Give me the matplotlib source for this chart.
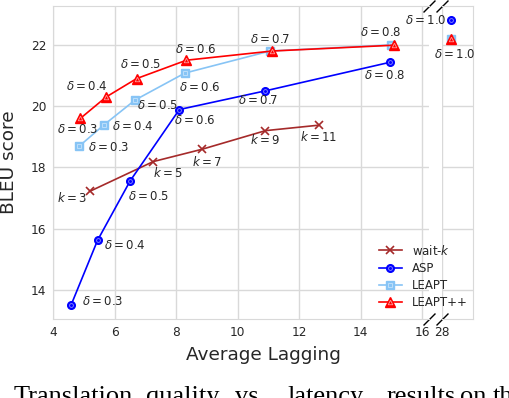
import matplotlib
matplotlib.use('Agg')
import matplotlib.pyplot as plt
from matplotlib.legend_handler import HandlerTuple

# datos
waitk_al = [5.19, 7.25, 8.83, 10.90, 12.65]
waitk_bleu = [17.22, 18.19, 18.59, 19.20, 19.38]
waitk_labels = ['$k=3$', '$k=5$', '$k=7$', '$k=9$', '$k=11$']

asp_al = [4.58, 5.44, 6.50, 8.10, 10.90, 14.94]
asp_bleu = [13.51, 15.62, 17.56, 19.89, 20.50, 21.43]
asp_labels = ['$\\delta=0.3$', '$\\delta=0.4$', '$\\delta=0.5$', '$\\delta=0.6$', '$\\delta=0.7$', '$\\delta=0.8$']

leapt_al = [4.85, 5.65, 6.66, 8.28, 11.05, 14.97]
leapt_bleu = [18.70, 19.39, 20.20, 21.08, 21.80, 22.00]
leapt_labels = ['$\\delta=0.3$', '$\\delta=0.4$', '$\\delta=0.5$', '$\\delta=0.6$']

leaptpp_al = [4.88, 5.72, 6.71, 8.33, 11.12, 15.08]
leaptpp_bleu = [19.60, 20.30, 20.90, 21.50, 21.80, 21.99]
leaptpp_labels = ['$\\delta=0.3$', '$\\delta=0.4$', '$\\delta=0.5$', '$\\delta=0.6$', '$\\delta=0.7$', '$\\delta=0.8$']

# delta = 1.0 (parte derecha del eje cortado)
d1_al = [28.3]
asp_d1_bleu = [22.8]
leapt_d1_bleu = [22.2]
leaptpp_d1_bleu = [22.2]

# leyenda de la figura (texto justificado, cortado en el borde)
caption_words = ['Translation', 'quality', 'vs.', 'latency', 'results', 'on', 'th']
caption_x = [14, 146, 235, 287, 387, 460, 493]

# desplazamiento de etiquetas en pixeles (izquierda del texto, centro vertical hacia abajo)
waitk_off = [(-33, 7), (0, 11), (-10, 13), (-15, 9), (-19, 12)]
asp_off = [(11, -3), (6, 5), (-2, 16), (-5, 11), (-27, 10), (-26, 13)]
leapt_off = [(9, 2), (8, 2), (2, 5), (-6, 14)]
leaptpp_off = [(-23, 11), (-40, -10), (-17, -14), (-11, -11), (-22, -12), (-34, -13)]

gris = '#d9d9d9'
texto = '#262626'
plt.rcParams['font.family'] = 'DejaVu Sans'

fig = plt.figure(figsize=(5.1, 3.98), dpi=100)
ax = fig.add_axes([53.3 / 510, 79 / 398, 375.7 / 510, 313 / 398])
ax2 = fig.add_axes([442 / 510, 79 / 398, 30.7 / 510, 313 / 398])


def etiquetar(a, xs, ys, labels, offs):
    for x, y, t, (dx, dy) in zip(xs, ys, labels, offs):
        a.annotate(t, (x, y), xytext=(dx * 0.72, -dy * 0.72), textcoords='offset points',
                   ha='left', va='center', fontsize=8.5, color=texto)


def serie(a, xs, ys, color, marker, ms, inner, lw=1.2, mew=1.0):
    l1, = a.plot(xs, ys, color=color, marker=marker, ms=ms, lw=lw, mfc=color, mec=color, mew=mew)
    l2, = a.plot(xs, ys, ls='none', marker=marker, ms=ms * 0.5, mfc='none', mec=inner, mew=0.6)
    return l1, l2


h_waitk, = ax.plot(waitk_al, waitk_bleu, color='#a52a2a', marker='x', ms=6, lw=1.2, mew=1.2)
h_asp = serie(ax, asp_al, asp_bleu, '#0000ff', 'o', 5.5, '#8c8cff')
h_leapt = serie(ax, leapt_al, leapt_bleu, '#87c4f5', 's', 5.5, '#c4e2fb')
h_leaptpp = serie(ax, leaptpp_al, leaptpp_bleu, '#ff0000', '^', 6.5, '#ff9c9c')

serie(ax2, d1_al, asp_d1_bleu, '#0000ff', 'o', 5.5, '#8c8cff')
serie(ax2, d1_al, leapt_d1_bleu, '#87c4f5', 's', 5.5, '#c4e2fb')
serie(ax2, d1_al, leaptpp_d1_bleu, '#ff0000', '^', 6.5, '#ff9c9c')

etiquetar(ax, waitk_al, waitk_bleu, waitk_labels, waitk_off)
etiquetar(ax, asp_al, asp_bleu, asp_labels, asp_off)
etiquetar(ax, leapt_al, leapt_bleu, leapt_labels, leapt_off)
etiquetar(ax, leaptpp_al, leaptpp_bleu, leaptpp_labels, leaptpp_off)
etiquetar(ax2, d1_al, asp_d1_bleu, ['$\\delta=1.0$'], [(-46, 0)])
etiquetar(ax2, d1_al, leaptpp_d1_bleu, ['$\\delta=1.0$'], [(-17, 16)])

ax.set_xlim(4, 16.22)
ax2.set_xlim(28, 29)
for a in (ax, ax2):
    a.set_ylim(13.05, 23.27)
    a.grid(True, color=gris, lw=1)
    a.set_axisbelow(True)
    a.tick_params(length=0, labelsize=8.7, colors=texto, pad=5)
    for s in a.spines.values():
        s.set_color(gris)
ax.set_xticks([4, 6, 8, 10, 12, 14, 16])
ax.set_yticks([14, 16, 18, 20, 22])
ax2.set_xticks([28])
ax2.set_yticks([14, 16, 18, 20, 22])
ax2.set_yticklabels([])
ax.spines['right'].set_visible(False)
ax2.spines['left'].set_visible(False)

# marcas del corte
corte = dict(marker=[(-1, -1), (1, 1)], ms=8.6, ls='none', color='k', mec='k', mew=1, clip_on=False)
ax.plot([1, 1], [0, 1], transform=ax.transAxes, **corte)
ax2.plot([0, 0], [0, 1], transform=ax2.transAxes, **corte)

ax.set_ylabel('BLEU score', fontsize=13.3, color=texto, labelpad=9)
fig.text(263 / 510, (398 - 360) / 398, 'Average Lagging', ha='center', va='baseline',
         fontsize=13.3, color=texto)

fig.legend([h_waitk, h_asp, h_leapt, h_leaptpp], ['wait-$k$', 'ASP', 'LEAPT', 'LEAPT++'],
           handler_map={tuple: HandlerTuple(ndivide=1)}, loc='center left',
           bbox_to_anchor=(372.7 / 510, (398 - 276.3) / 398), frameon=False, borderpad=0,
           fontsize=8.5, labelspacing=0.35, handlelength=2.0, handletextpad=0.8,
           labelcolor=texto)

for w, x in zip(caption_words, caption_x):
    fig.text(x / 510, (398 - 402.6) / 398, w, fontsize=19, family='Liberation Serif',
             ha='left', va='baseline', color='k')

fig.savefig('out.png', dpi=100)
